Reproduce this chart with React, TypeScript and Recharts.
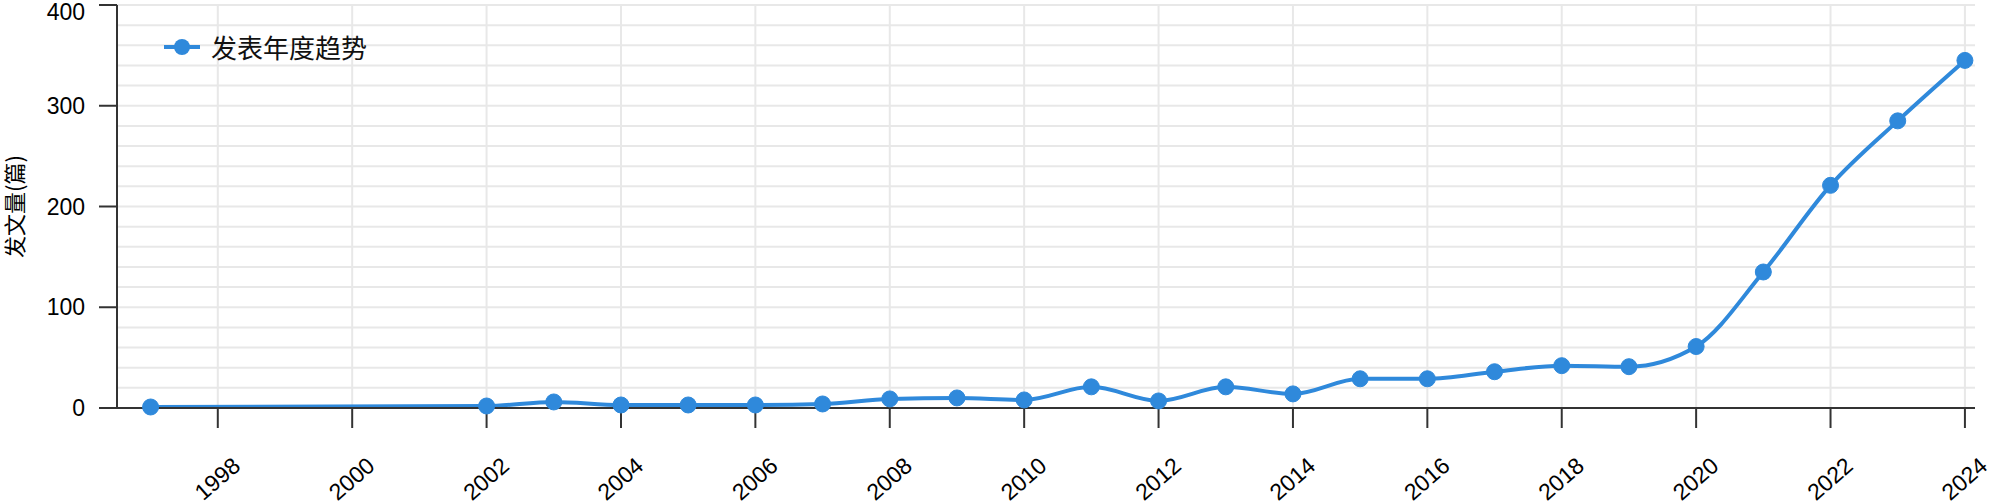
import { CartesianGrid, Line, LineChart, XAxis, YAxis } from "recharts";

const years = [1997, 2002, 2003, 2004, 2005, 2006, 2007, 2008, 2009, 2010, 2011, 2012, 2013, 2014, 2015, 2016, 2017, 2018, 2019, 2020, 2021, 2022, 2023, 2024];
const counts = [1, 2, 6, 3, 3, 3, 4, 9, 10, 8, 21, 7, 21, 14, 29, 29, 36, 42, 41, 61, 135, 221, 285, 345];

const xTicks = [1998, 2000, 2002, 2004, 2006, 2008, 2010, 2012, 2014, 2016, 2018, 2020, 2022, 2024];
const yTicks = [0, 100, 200, 300, 400];
const yGrid = [0, 20, 40, 60, 80, 100, 120, 140, 160, 180, 200, 220, 240, 260, 280, 300, 320, 340, 360, 380, 400];

const seriesName = "发表年度趋势";
const yTitle = "发文量(篇)";

const data = years.map((year, i) => ({ year, count: counts[i] }));

const BLUE = "#2f89db";
const AXIS = "#333333";
const NUM_FONT = "'Liberation Sans', Arial, Helvetica, sans-serif";
const CJK_FONT = "'Noto Sans CJK SC', 'Noto Sans', sans-serif";

function YearTick(props: any) {
  const { x, y, payload } = props;
  const tx = x + 24;
  const ty = y + 40;
  return (
    <text
      x={tx}
      y={ty}
      transform={`rotate(-41 ${tx} ${ty})`}
      textAnchor="end"
      fontSize={23}
      fontFamily={NUM_FONT}
      fill="#000"
    >
      {payload.value}
    </text>
  );
}

// top label is pushed down so it stays inside the picture
function CountTick(props: any) {
  const { x, y, payload } = props;
  const cy = Math.max(y, 12);
  return (
    <text x={x} y={cy} dy="0.355em" textAnchor="end" fontSize={23} fontFamily={NUM_FONT} fill="#000">
      {payload.value}
    </text>
  );
}

function LegendBox() {
  return (
    <div style={{ position: "absolute", left: 163, top: 30, display: "flex", alignItems: "center" }}>
      <svg width={38} height={20}>
        <line x1={1} y1={10} x2={37} y2={10} stroke={BLUE} strokeWidth={4} />
        <circle cx={19} cy={10} r={8} fill={BLUE} />
      </svg>
      <span style={{ marginLeft: 10, fontSize: 26, lineHeight: "34px", fontFamily: CJK_FONT, color: "#111" }}>
        {seriesName}
      </span>
    </div>
  );
}

export default function App() {
  return (
    <div style={{ position: "absolute", left: 0, top: 0, width: 2000, height: 504, background: "#fff" }}>
      <LineChart width={2000} height={504} data={data} margin={{ top: 5, right: 25, left: 0, bottom: 0 }}>
        <CartesianGrid stroke="#e8e8e8" strokeWidth={2} horizontalValues={yGrid} verticalValues={xTicks} />
        <XAxis
          dataKey="year"
          type="number"
          domain={[1996.5, 2024.15]}
          ticks={xTicks}
          interval={0}
          height={96}
          tickSize={20}
          tickMargin={0}
          axisLine={{ stroke: AXIS, strokeWidth: 2 }}
          tickLine={{ stroke: AXIS, strokeWidth: 2 }}
          tick={<YearTick />}
        />
        <YAxis
          domain={[0, 400]}
          ticks={yTicks}
          interval={0}
          width={117}
          tickSize={18}
          tickMargin={14}
          axisLine={{ stroke: AXIS, strokeWidth: 2 }}
          tickLine={{ stroke: AXIS, strokeWidth: 2 }}
          tick={<CountTick />}
          label={{
            value: yTitle,
            angle: -90,
            position: "insideLeft",
            offset: 15,
            style: { textAnchor: "middle", fontSize: 22, fill: "#000", fontFamily: CJK_FONT },
          }}
        />
        <Line
          type="monotone"
          dataKey="count"
          name={seriesName}
          stroke={BLUE}
          strokeWidth={4}
          dot={{ r: 8, fill: BLUE, stroke: BLUE, strokeWidth: 1 }}
          activeDot={false}
          isAnimationActive={false}
        />
      </LineChart>
      <LegendBox />
    </div>
  );
}
